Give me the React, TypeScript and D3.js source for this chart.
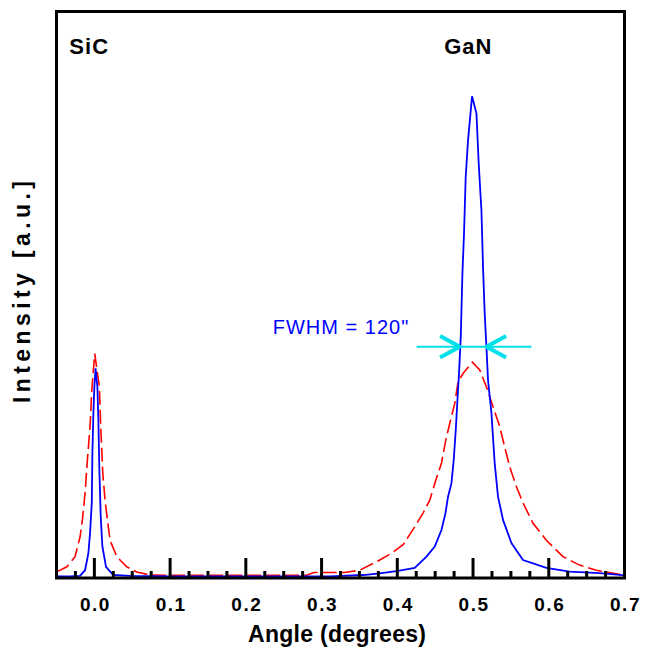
import { useEffect, useRef } from "react";
import * as d3 from "d3";

// blue trace (narrow peaks)
const blueAngle = [
  -0.05, -0.032, -0.019, -0.0123, -0.0079, -0.0057, -0.0034, -0.0026, -0.0013, 0.0,
  0.0016, 0.004, 0.0053, 0.0066, 0.0084, 0.0106, 0.0154, 0.025, 0.047, 0.1,
  0.2, 0.311, 0.355, 0.377, 0.401, 0.423, 0.4385, 0.4495, 0.4583, 0.4636,
  0.467, 0.4715, 0.4745, 0.4772, 0.4794, 0.4815, 0.4838, 0.486, 0.4881, 0.4903,
  0.4934, 0.4987, 0.5045, 0.5075, 0.5111, 0.5132, 0.5154, 0.5177, 0.5198, 0.5243,
  0.5286, 0.533, 0.5396, 0.5507, 0.566, 0.5968, 0.6276, 0.667, 0.6975, 0.7,
];
const blueIntensity = [
  0.1, 0.1, 0.2, 1.2, 4.2, 7.8, 13.1, 21.9, 29.0, 33.6,
  36.9, 33.6, 27.7, 18.9, 10.6, 5.4, 1.8, 0.35, 0.2, 0.1,
  0.1, 0.1, 0.35, 0.65, 1.1, 1.6, 3.6, 5.4, 8.3, 11.3,
  14.2, 16.6, 20.7, 26.0, 31.3, 36.0, 42.5, 53.7, 60.8, 70.7,
  77.2, 85.0, 82.0, 73.1, 64.8, 54.8, 46.6, 40.7, 34.8, 29.0,
  20.1, 14.2, 10.1, 6.0, 3.0, 1.6, 0.94, 0.7, 0.35, 0.3,
];

// red dashed trace (broad peaks)
const redAngle = [
  -0.0496, -0.0364, -0.0255, -0.0189, -0.0158, -0.0123, -0.0092, -0.0057, -0.0034, 0.0005,
  0.0066, 0.0084, 0.0111, 0.0141, 0.0172, 0.0207, 0.0296, 0.0427, 0.0559, 0.0735,
  0.1, 0.2, 0.28, 0.29, 0.33, 0.3505, 0.3769, 0.3923, 0.4077, 0.4231,
  0.434, 0.4429, 0.4508, 0.4583, 0.464, 0.4702, 0.4759, 0.4802, 0.4868, 0.4992,
  0.5088, 0.5177, 0.5264, 0.5352, 0.5418, 0.5484, 0.5572, 0.566, 0.5792, 0.5968,
  0.6187, 0.6407, 0.6628, 0.6975,
];
const redIntensity = [
  0.9, 1.8, 3.6, 7.1, 10.1, 14.8, 20.7, 26.6, 33.0, 39.5,
  33.6, 26.6, 18.4, 13.6, 10.1, 6.5, 3.6, 1.8, 0.9, 0.35,
  0.3, 0.3, 0.3, 0.8, 0.8, 1.2, 3.0, 4.2, 5.7, 8.9,
  11.3, 13.6, 17.1, 20.1, 24.2, 27.7, 30.7, 34.5, 36.0, 38.0,
  36.6, 33.6, 30.1, 26.6, 23.0, 19.5, 16.0, 13.1, 9.5, 6.5,
  3.6, 2.1, 1.2, 0.35,
];

const majorTicks = [0.0, 0.1, 0.2, 0.3, 0.4, 0.5, 0.6, 0.7];
const minorStep = 0.025;

const peakLabels = ["SiC", "GaN"];
const peakLabelAngle = [-0.033, 0.462];

// FWHM marker
const fwhmLevel = 40.7;
const fwhmEdges = [0.4825, 0.5177];
const fwhmLine = [0.4256, 0.577];
const arrowDx = 0.026;
const arrowDy = 1.9;
const fwhmText = 'FWHM = 120"';

export default function App() {
  const ref = useRef<SVGSVGElement>(null);

  useEffect(() => {
    const svg = d3.select(ref.current);
    svg.selectAll("*").remove();

    const x = d3.scaleLinear().domain([-0.05, 0.7]).range([56.5, 624.5]);
    const y = d3.scaleLinear().domain([0, 100]).range([577, 11.5]);
    const font = "'Liberation Sans', Arial, sans-serif";

    svg.append("clipPath").attr("id", "plot-clip")
      .append("rect")
      .attr("x", x(-0.05)).attr("y", y(100))
      .attr("width", x(0.7) - x(-0.05)).attr("height", y(0) - y(100));

    const line = d3.line<[number, number]>()
      .x(d => x(d[0]))
      .y(d => y(d[1]));

    const plot = svg.append("g").attr("clip-path", "url(#plot-clip)");

    plot.append("path")
      .datum(redAngle.map((a, i) => [a, redIntensity[i]] as [number, number]))
      .attr("fill", "none")
      .attr("stroke", "#ff0000")
      .attr("stroke-width", 1.6)
      .attr("stroke-dasharray", "14,5")
      .attr("d", line);

    plot.append("path")
      .datum(blueAngle.map((a, i) => [a, blueIntensity[i]] as [number, number]))
      .attr("fill", "none")
      .attr("stroke", "#0000ff")
      .attr("stroke-width", 1.8)
      .attr("d", line);

    // FWHM arrows
    const cyan = "#00e0e8";
    svg.append("line")
      .attr("x1", x(fwhmLine[0])).attr("x2", x(fwhmLine[1]))
      .attr("y1", y(fwhmLevel)).attr("y2", y(fwhmLevel))
      .attr("stroke", cyan).attr("stroke-width", 2);
    fwhmEdges.forEach((edge, i) => {
      const dir = i === 0 ? -1 : 1;
      [1, -1].forEach(s => {
        svg.append("line")
          .attr("x1", x(edge)).attr("y1", y(fwhmLevel))
          .attr("x2", x(edge + dir * arrowDx)).attr("y2", y(fwhmLevel + s * arrowDy))
          .attr("stroke", cyan).attr("stroke-width", 4);
      });
    });

    svg.append("text")
      .attr("x", x(0.4825) - 187).attr("y", y(fwhmLevel) - 13)
      .attr("font-family", font).attr("font-size", 20)
      .attr("letter-spacing", 1)
      .attr("fill", "#0000ff")
      .text(fwhmText);

    // frame
    svg.append("rect")
      .attr("x", x(-0.05)).attr("y", y(100))
      .attr("width", x(0.7) - x(-0.05)).attr("height", y(0) - y(100) + 1)
      .attr("fill", "none").attr("stroke", "#000").attr("stroke-width", 3);

    // ticks
    const minor = d3.range(-0.025, 0.7, minorStep)
      .filter(v => !majorTicks.some(m => Math.abs(m - v) < 1e-6));
    svg.selectAll(".minor").data(minor).enter().append("line")
      .attr("x1", d => x(d)).attr("x2", d => x(d))
      .attr("y1", y(0) + 1).attr("y2", y(0) - 6)
      .attr("stroke", "#000").attr("stroke-width", 3);
    svg.selectAll(".major").data(majorTicks).enter().append("line")
      .attr("x1", d => x(d)).attr("x2", d => x(d))
      .attr("y1", y(0) + 1).attr("y2", y(0) - 19)
      .attr("stroke", "#000").attr("stroke-width", 3);

    svg.selectAll(".tick-label").data(majorTicks).enter().append("text")
      .attr("x", d => x(d) + 1).attr("y", 611)
      .attr("text-anchor", "middle")
      .attr("font-family", font).attr("font-weight", "bold").attr("font-size", 19)
      .attr("letter-spacing", 1.5)
      .text(d => d.toFixed(1));

    svg.append("text")
      .attr("x", 337).attr("y", 642)
      .attr("text-anchor", "middle")
      .attr("font-family", font).attr("font-weight", "bold").attr("font-size", 23)
      .attr("textLength", 178).attr("lengthAdjust", "spacing")
      .text("Angle (degrees)");

    svg.append("text")
      .attr("transform", "translate(30, 292) rotate(-90)")
      .attr("text-anchor", "middle")
      .attr("font-family", font).attr("font-weight", "bold").attr("font-size", 23)
      .attr("textLength", 222).attr("lengthAdjust", "spacing")
      .text("Intensity [a.u.]");

    svg.selectAll(".peak").data(peakLabels).enter().append("text")
      .attr("x", (d, i) => x(peakLabelAngle[i])).attr("y", 54)
      .attr("font-family", font).attr("font-weight", "bold").attr("font-size", 22)
      .attr("letter-spacing", 1)
      .text(d => d);
  }, []);

  return (
    <svg ref={ref} width={651} height={656}
      style={{ position: "absolute", left: 0, top: 0, background: "#fff" }} />
  );
}
